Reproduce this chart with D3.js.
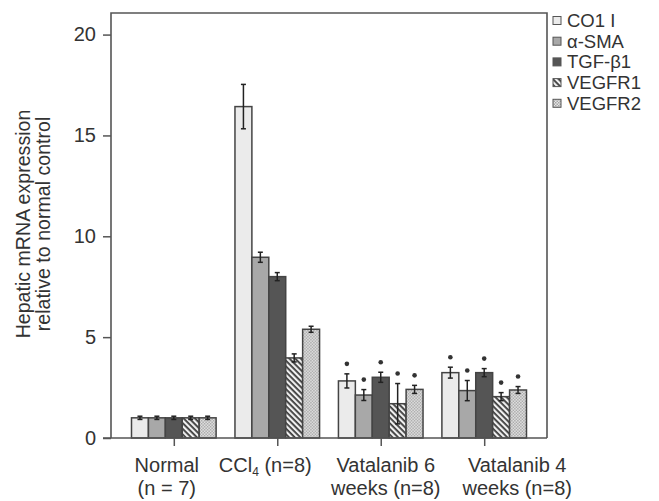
<!DOCTYPE html>
<html>
<head>
<meta charset="utf-8">
<script src="https://cdn.jsdelivr.net/npm/d3@7"></script>
<style>
  html, body { margin: 0; padding: 0; background: #fff; }
  svg { display: block; font-family: "Liberation Sans", Arial, sans-serif; }
</style>
</head>
<body>
<svg id="chart" width="659" height="501"></svg>
<script>
// ---- data ----
const categories = ["Normal", "CCl4", "Vatalanib6", "Vatalanib4"];
const labelLines = [["Normal", "(n = 7)"], ["CCl4 (n=8)"], ["Vatalanib 6", "weeks (n=8)"], ["Vatalanib 4", "weeks (n=8)"]];
const seriesNames = ["CO1 I", "α-SMA", "TGF-β1", "VEGFR1", "VEGFR2"];
const co1 =    [1.0, 16.43, 2.83, 3.24];
const asma =   [1.0, 8.96, 2.13, 2.35];
const tgf =    [1.0, 8.0, 3.01, 3.24];
const vegfr1 = [1.0, 3.97, 1.70, 2.05];
const vegfr2 = [1.0, 5.39, 2.41, 2.38];
const co1Err =    [0.08, 1.1, 0.35, 0.27];
const asmaErr =   [0.08, 0.25, 0.27, 0.5];
const tgfErr =    [0.08, 0.2, 0.25, 0.2];
const vegfr1Err = [0.08, 0.2, 1.0, 0.2];
const vegfr2Err = [0.08, 0.15, 0.2, 0.17];
const significant = [false, false, true, true]; // * vs CCl4
const yTicks = [0, 5, 10, 15, 20];
const yMax = 21.07;

// ---- layout ----
const svg = d3.select("#chart");
const pLeft = 111, pRight = 547, pTop = 13, pBottom = 438;
const fontSize = 20;
const axisColor = "#555";
const labelDx = [-7, -12, 5, 33];

const values = [co1, asma, tgf, vegfr1, vegfr2];
const errors = [co1Err, asmaErr, tgfErr, vegfr1Err, vegfr2Err];

const x = d3.scalePoint().domain(categories).range([pLeft, pRight]).padding(0.607);
const xs = d3.scaleBand().domain(seriesNames).range([-42.3, 42.3]).padding(0);
const y = d3.scaleLinear().domain([0, yMax]).range([pBottom, pTop]);

// patterns
const defs = svg.append("defs");
const p1 = defs.append("pattern").attr("id", "hatch").attr("patternUnits", "userSpaceOnUse")
  .attr("width", 4).attr("height", 4).attr("patternTransform", "rotate(45)");
p1.append("rect").attr("width", 4).attr("height", 4).attr("fill", "#efefef");
p1.append("rect").attr("width", 4).attr("height", 1.8).attr("fill", "#3a3a3a");
const p2 = defs.append("pattern").attr("id", "check").attr("patternUnits", "userSpaceOnUse")
  .attr("width", 3).attr("height", 3);
p2.append("rect").attr("width", 3).attr("height", 3).attr("fill", "#e6e6e6");
p2.append("rect").attr("width", 1.5).attr("height", 1.5).attr("fill", "#a6a6a6");
p2.append("rect").attr("x", 1.5).attr("y", 1.5).attr("width", 1.5).attr("height", 1.5).attr("fill", "#a6a6a6");

const fills = ["#ebebeb", "#a8a8a8", "#555555", "url(#hatch)", "url(#check)"];

// frame
svg.append("path")
  .attr("d", `M${pLeft},${pBottom}V${pTop}H${pRight}V${pBottom}`)
  .attr("fill", "none").attr("stroke", axisColor).attr("stroke-width", 1.6);

// bars
categories.forEach((c, ci) => {
  const g = svg.append("g").attr("transform", `translate(${x(c)},0)`);
  seriesNames.forEach((s, si) => {
    const v = values[si][ci], e = errors[si][ci];
    const bx = xs(s), bw = xs.bandwidth();
    g.append("rect")
      .attr("x", bx).attr("y", y(v)).attr("width", bw).attr("height", y(0) - y(v))
      .attr("fill", fills[si]).attr("stroke", "#444").attr("stroke-width", 1.5);
    const cx = bx + bw / 2;
    g.append("line").attr("x1", cx).attr("x2", cx).attr("y1", y(v + e)).attr("y2", y(v - e))
      .attr("stroke", "#222").attr("stroke-width", 1.5);
    [v + e, v - e].forEach(t => {
      g.append("line").attr("x1", cx - 2.5).attr("x2", cx + 2.5).attr("y1", y(t)).attr("y2", y(t))
        .attr("stroke", "#222").attr("stroke-width", 1.5);
    });
    if (significant[ci]) {
      g.append("circle").attr("cx", cx).attr("cy", y(v + e) - 10).attr("r", 2.3).attr("fill", "#333");
    }
  });
});

// x axis line (drawn over bars)
svg.append("line").attr("x1", pLeft - 8).attr("x2", pRight).attr("y1", pBottom).attr("y2", pBottom)
  .attr("stroke", axisColor).attr("stroke-width", 1.6);

// y axis ticks
const yAxis = svg.append("g").attr("transform", `translate(${pLeft},0)`)
  .call(d3.axisLeft(y).tickValues(yTicks).tickSize(8).tickPadding(7).tickFormat(d3.format("d")));
yAxis.select(".domain").remove();
yAxis.selectAll(".tick line").attr("stroke", axisColor).attr("stroke-width", 1.5);
yAxis.selectAll(".tick text").attr("font-size", fontSize).attr("fill", "#333")
  .attr("font-family", "Liberation Sans, Arial, sans-serif");

// x axis ticks
const xAxis = svg.append("g").attr("transform", `translate(0,${pBottom})`)
  .call(d3.axisBottom(x).tickSize(8).tickFormat(""));
xAxis.select(".domain").remove();
xAxis.selectAll(".tick line").attr("stroke", axisColor).attr("stroke-width", 1.5);

// x labels
categories.forEach((c, ci) => {
  const lines = labelLines[ci];
  lines.forEach((ln, li) => {
    const t = svg.append("text").attr("x", x(c) + labelDx[ci]).attr("y", 472 + li * 23)
      .attr("text-anchor", "middle").attr("font-size", fontSize).attr("fill", "#333");
    if (ln.startsWith("CCl4")) {
      t.append("tspan").text("CCl");
      t.append("tspan").text("4").attr("font-size", 12).attr("dy", 4);
      t.append("tspan").text(" (n=8)").attr("dy", -4);
    } else {
      t.text(ln);
    }
  });
});

// y label
const yl = svg.append("text").attr("transform", "translate(30,224) rotate(-90)")
  .attr("text-anchor", "middle").attr("font-size", 19.6).attr("fill", "#333");
yl.append("tspan").attr("x", 0).attr("dy", 0).text("Hepatic mRNA expression");
yl.append("tspan").attr("x", 0).attr("dy", 19.5).text("relative to normal control");

// legend
seriesNames.forEach((s, si) => {
  const ly = 20.5 + si * 20.7;
  svg.append("rect").attr("x", 553).attr("y", ly - 4).attr("width", 8).attr("height", 8)
    .attr("fill", fills[si]).attr("stroke", "#555").attr("stroke-width", 1);
  svg.append("text").attr("x", 567).attr("y", ly + 6.5).attr("font-size", 18.5)
    .attr("fill", "#333").text(s);
});
</script>
</body>
</html>
